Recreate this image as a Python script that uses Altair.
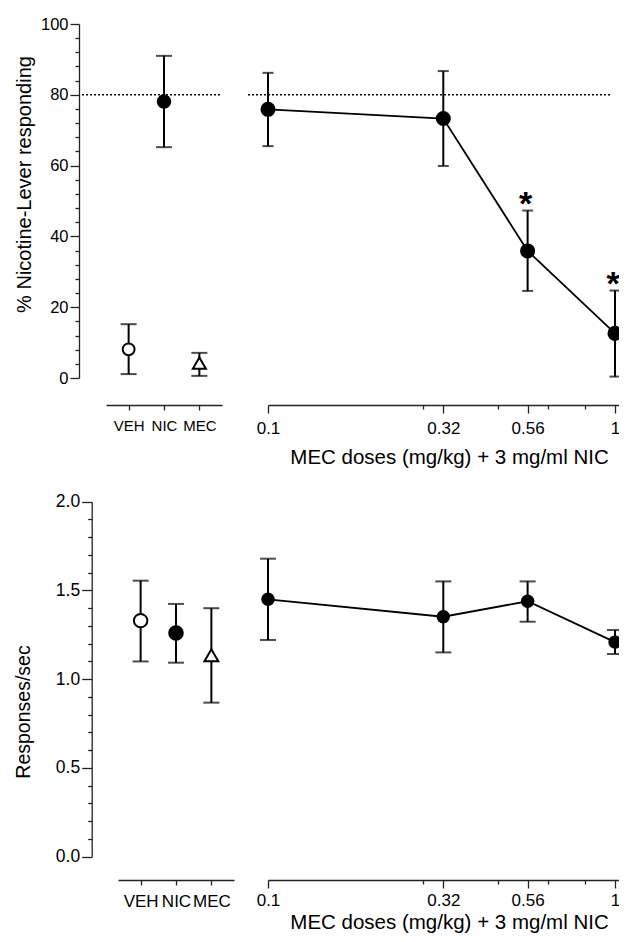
import altair as alt
import pandas as pd

FONT = "Liberation Sans"

# ---------------- data ----------------
groups = ["VEH", "NIC", "MEC"]
group_pos = [1, 2, 3]
doses = [0.1, 0.32, 0.56, 1.0]
dose_minor_ticks = [0.28, 0.46, 0.64, 0.82]

pct_ctrl_mean = [8.1, 78.1, 4.2]
pct_ctrl_hi = [15.2, 91.0, 7.1]
pct_ctrl_lo = [1.1, 65.2, 0.6]

pct_dose_mean = [75.9, 73.3, 35.9, 12.6]
pct_dose_hi = [86.2, 86.7, 47.3, 24.7]
pct_dose_lo = [65.5, 59.9, 24.6, 0.4]
pct_dose_sig = ["", "", "*", "*"]

rate_ctrl_mean = [1.33, 1.26, 1.135]
rate_ctrl_hi = [1.555, 1.424, 1.40]
rate_ctrl_lo = [1.10, 1.093, 0.868]

rate_dose_mean = [1.45, 1.352, 1.439, 1.209]
rate_dose_hi = [1.679, 1.551, 1.551, 1.277]
rate_dose_lo = [1.221, 1.151, 1.324, 1.142]

ref_pct = 80
ref_ctrl_span = [-0.32, 3.64]
ref_dose_span = [0.0876, 0.974]

pct_ticks = list(range(0, 101, 4))
rate_ticks = [round(i * 0.1, 1) for i in range(21)]

# ---------------- layout (pixels inside the single view) ----------------
VIEW_W, VIEW_H = 541, 859
TOP_Y_RANGE = [354, 0]
BOT_Y_RANGE = [832.7, 477.7]
TL_X_RANGE = [27, 143]
BL_X_RANGE = [39, 155]
DOSE_X_RANGE = [189, 541]
DOSE_TITLE_X = 370
TOP_XAXIS_OFFSET = -478
BOT_XAXIS_OFFSET = -3

CTRL_DOMAIN = [0.36, 3.64]
DOSE_DOMAIN = [0.1, 1.0337]
cat_expr = "[" + ",".join("'%s'" % g for g in groups) + "][datum.value - 1]"
dose_list = "[" + ",".join(str(d) for d in doses) + "]"
dose_major = "indexof(%s, datum.value) >= 0" % dose_list


def y_axis(title, values, major_test, fmt, label_size, major_tick, offset, title_size, title_pad, title_y):
    return alt.Axis(
        title=title, values=values, format=fmt, orient="left",
        labelExpr="(%s) ? datum.label : ''" % major_test,
        tickSize={"condition": {"test": major_test, "value": major_tick}, "value": 4},
        offset=offset, labelFontSize=label_size, labelPadding=2,
        titleFontSize=title_size, titlePadding=title_pad, titleY=title_y,
        grid=False, labelOverlap=False,
    )


def ctrl_panel(mean, hi, lo, ydom, y_range, yax, x_range, xoffset, label_size, label_pad,
               circ_sizes, tri_size, cap, ref=None):
    df = pd.DataFrame({"group": groups, "pos": group_pos, "mean": mean, "hi": hi, "lo": lo})
    xs = alt.Scale(domain=CTRL_DOMAIN, range=x_range, nice=False, zero=False)
    xax = alt.Axis(values=group_pos, labelExpr=cat_expr, tickSize=5, offset=xoffset, orient="bottom",
                   labelFontSize=label_size, labelPadding=label_pad, title=None,
                   grid=False, labelFlush=False, labelOverlap=False)
    ys = alt.Scale(domain=ydom, range=y_range, nice=False, zero=True)
    X = lambda f: alt.X(f, scale=xs, axis=xax)
    Y = lambda f: alt.Y(f, scale=ys, axis=yax)
    base = alt.Chart(df)
    layers = []
    if ref is not None:
        rdf = pd.DataFrame({"x0": [ref_ctrl_span[0]], "x1": [ref_ctrl_span[1]], "y": [ref]})
        layers.append(alt.Chart(rdf).mark_rule(strokeDash=[2, 2], strokeWidth=1.5, color="black").encode(
            x=X("x0:Q"), x2="x1:Q", y=Y("y:Q")))
    layers.append(base.mark_rule(strokeWidth=2, color="black").encode(
        x=X("pos:Q"), y=Y("lo:Q"), y2="hi:Q"))
    for f in ["hi", "lo"]:
        layers.append(base.mark_tick(orient="horizontal", size=cap, thickness=2, color="black").encode(
            x=X("pos:Q"), y=Y(f + ":Q")))
    layers.append(base.mark_point(filled=False, stroke="black", strokeWidth=2, opacity=1).encode(
        x=X("pos:Q"), y=Y("mean:Q"),
        shape=alt.Shape("group:N", scale=alt.Scale(domain=groups, range=["circle", "circle", "triangle-up"]), legend=None),
        fill=alt.Fill("group:N", scale=alt.Scale(domain=groups, range=["white", "black", "white"]), legend=None),
        size=alt.Size("group:N", scale=alt.Scale(domain=groups, range=circ_sizes + [tri_size]), legend=None),
    ))
    return alt.layer(*layers)


def dose_panel(mean, hi, lo, ydom, y_range, xoffset, label_pad, title_pad, pt_size, cap, sig=None, ref=None):
    d = {"dose": doses, "mean": mean, "hi": hi, "lo": lo}
    if sig is not None:
        d["sig"] = sig
    df = pd.DataFrame(d)
    xs = alt.Scale(type="log", domain=DOSE_DOMAIN, range=DOSE_X_RANGE, nice=False)
    xax = alt.Axis(values=doses + dose_minor_ticks, orient="bottom",
                   labelExpr="(%s) ? format(datum.value, '~g') : ''" % dose_major,
                   tickSize={"condition": {"test": dose_major, "value": 8}, "value": 4},
                   offset=xoffset, labelFontSize=17, labelPadding=label_pad,
                   title="MEC doses (mg/kg) + 3 mg/ml NIC", titleFontSize=20.5, titlePadding=title_pad,
                   titleX=DOSE_TITLE_X,
                   grid=False, labelFlush=False, labelOverlap=False)
    ys = alt.Scale(domain=ydom, range=y_range, nice=False, zero=True)
    base = alt.Chart(df)
    X = lambda f: alt.X(f, scale=xs, axis=xax)
    Y = lambda f: alt.Y(f, scale=ys, axis=None)
    layers = []
    if ref is not None:
        rdf = pd.DataFrame({"x0": [ref_dose_span[0]], "x1": [ref_dose_span[1]], "y": [ref]})
        layers.append(alt.Chart(rdf).mark_rule(strokeDash=[2, 2], strokeWidth=1.5, color="black").encode(
            x=X("x0:Q"), x2="x1:Q", y=Y("y:Q")))
    layers.append(base.mark_line(strokeWidth=1.8, color="black", clip=True).encode(x=X("dose:Q"), y=Y("mean:Q")))
    layers.append(base.mark_rule(strokeWidth=2, color="black", clip=True).encode(x=X("dose:Q"), y=Y("lo:Q"), y2="hi:Q"))
    for f in ["hi", "lo"]:
        layers.append(base.mark_tick(orient="horizontal", size=cap, thickness=2, color="black", clip=True).encode(
            x=X("dose:Q"), y=Y(f + ":Q")))
    layers.append(base.mark_point(filled=True, color="black", size=pt_size, opacity=1, clip=True).encode(
        x=X("dose:Q"), y=Y("mean:Q")))
    if sig is not None:
        layers.append(base.transform_filter("datum.sig != ''").mark_text(
            fontSize=34, fontWeight="bold", font=FONT, color="black", baseline="alphabetic", dy=4, dx=-2
        ).encode(x=X("dose:Q"), y=Y("hi:Q"), text="sig:N"))
    return alt.layer(*layers)


# ---------------- panels ----------------
top_yax = y_axis("% Nicotine-Lever responding", pct_ticks, "datum.value % 20 === 0", "d",
                 16.5, 9, 0, 20, 6, 160)
bot_yax = y_axis("Responses/sec", rate_ticks, "round(datum.value * 10) % 5 === 0", ".1f",
                 17.5, 10, -12.7, 19.5, 22, 687.5)

top_left = ctrl_panel(pct_ctrl_mean, pct_ctrl_hi, pct_ctrl_lo, [0, 100], TOP_Y_RANGE, top_yax,
                      TL_X_RANGE, TOP_XAXIS_OFFSET, 15, 8, [140, 170], 190, 16, ref=ref_pct)
top_right = dose_panel(pct_dose_mean, pct_dose_hi, pct_dose_lo, [0, 100], TOP_Y_RANGE,
                       TOP_XAXIS_OFFSET, 7, 11, 227, 11, sig=pct_dose_sig, ref=ref_pct)
bot_left = ctrl_panel(rate_ctrl_mean, rate_ctrl_hi, rate_ctrl_lo, [0, 2], BOT_Y_RANGE, bot_yax,
                      BL_X_RANGE, BOT_XAXIS_OFFSET, 17, 8, [180, 190], 220, 16)
bot_right = dose_panel(rate_dose_mean, rate_dose_hi, rate_dose_lo, [0, 2], BOT_Y_RANGE,
                       BOT_XAXIS_OFFSET, 4, 4, 180, 16)

chart = alt.layer(top_left, top_right, bot_left, bot_right).resolve_scale(
    x="independent", y="independent", shape="independent", fill="independent", size="independent"
).resolve_axis(x="independent", y="independent").properties(
    width=VIEW_W, height=VIEW_H,
    padding={"left": 5, "top": 8, "right": -1, "bottom": 0},
).configure_view(stroke=None).configure_axis(
    labelFont=FONT, titleFont=FONT, labelColor="black", titleColor="black",
    domainColor="#222222", tickColor="#222222", domainWidth=1.3, tickWidth=1.3,
    titleFontWeight="normal",
)

chart.save("out.html", embed_options={"renderer": "svg", "actions": False})
